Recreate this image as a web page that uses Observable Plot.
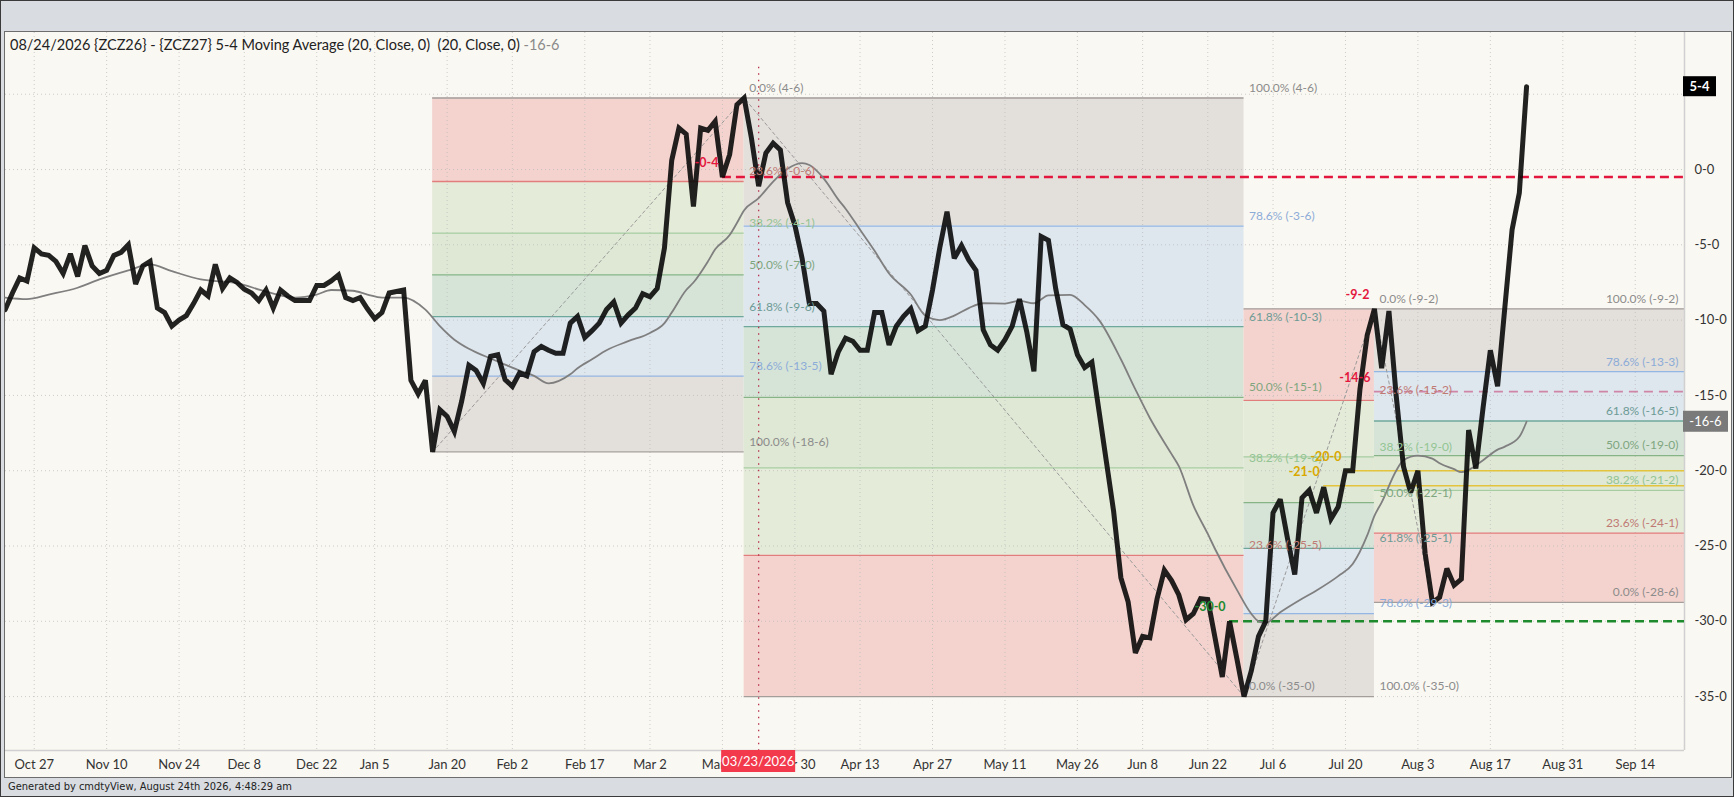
<!DOCTYPE html>
<html>
<head>
<meta charset="utf-8">
<script src="https://cdn.jsdelivr.net/npm/d3@7"></script>
<script src="https://cdn.jsdelivr.net/npm/@observablehq/plot@0.6"></script>
<style>
  html, body { margin: 0; padding: 0; background: #d9dde1; }
  #frame { position: relative; width: 1734px; height: 797px; background: #d9dde1; overflow: hidden; font-family: Lato, "Noto Sans", sans-serif; box-sizing: border-box; border: 1px solid #3a3a3a; }
  #panel { position: absolute; left: 3px; top: 30px; width: 1728px; height: 747px; background: #faf8f2; border: 1px solid #6d6d6d; box-sizing: border-box; }
  #chart { position: absolute; left: 4px; top: 31px; }
  #title { position: absolute; left: 9px; top: 35px; font-size: 14.5px; color: #222; white-space: pre; line-height: 18px; }
  #title .ma { color: #8a8a8a; }
  #footer { position: absolute; left: 7px; top: 779px; font-family: "Liberation Sans Narrow", "DejaVu Sans Condensed", "Liberation Sans", sans-serif; font-size: 11px; color: #222; }
</style>
</head>
<body>
<div id="frame">
  <div id="panel"></div>
  <div id="chart"></div>
  <div id="title">08/24/2026 {ZCZ26} - {ZCZ27} 5-4 Moving Average (20, Close, 0)  (20, Close, 0) <span class="ma">-16-6</span></div>
  <div id="footer">Generated by cmdtyView, August 24th 2026, 4:48:29 am</div>
</div>
<script>
// ---- data (trading-day index: 0 = Oct 27) ----
const firstDay = -4;
const closes = [
  -9.3, -8.2, -7.2, -7.4, -5.2, -5.6, -5.7, -6.1, -6.9, -5.6,
  -7.1, -5.05, -6.4, -6.9, -6.7, -5.7, -5.5, -5.0, -7.6, -6.4,
  -6.1, -9.2, -9.5, -10.4, -10.0, -9.7, -8.9, -8.0, -8.4, -6.3,
  -7.9, -7.2, -7.5, -7.95, -8.2, -8.7, -8.0, -9.2, -8.0, -8.4,
  -8.7, -8.7, -8.7, -7.7, -7.7, -7.4, -7.0, -8.5, -8.7, -8.5,
  -9.25, -9.9, -9.5, -8.2, -8.1, -8.0, -14.0, -14.9, -14.0, -18.75,
  -15.95, -16.4, -17.4, -15.4, -13.0, -13.35, -14.2, -12.4, -12.3, -13.95,
  -14.4, -13.5, -13.7, -12.1, -11.75, -12.0, -12.2, -12.2, -10.2, -9.75,
  -11.15, -10.7, -10.2, -9.3, -8.8, -10.2, -9.65, -9.2, -8.25, -8.45,
  -7.9, -5.2, 0.6, 2.75, 2.35, -2.45, 2.75, 2.6, 3.2, -0.5,
  1.0, 4.3, 4.75, 2.1, -1.1, 1.1, 1.75, 1.3, -2.2, -3.7,
  -5.9, -8.9, -8.9, -9.4, -13.6, -12.1, -11.2, -11.4, -12.0, -12.0,
  -9.5, -9.5, -11.65, -10.4, -9.75, -9.25, -10.7, -10.4, -8.0, -5.2,
  -2.8, -5.9, -5.05, -6.0, -6.7, -10.65, -11.65, -12.0, -11.3, -10.4,
  -8.6, -10.75, -13.4, -4.45, -4.7, -7.9, -10.3, -10.6, -12.3, -13.15,
  -12.8, -16.1, -19.4, -22.7, -27.1, -28.7, -32.1, -31.0, -31.1, -28.5,
  -26.6, -27.3, -28.25, -29.9, -29.5, -28.5, -28.55, -31.1, -33.7, -30.0,
  -32.45, -35.0, -33.3, -31.0, -30.0, -22.8, -21.9, -24.5, -26.9, -21.8,
  -21.3, -22.8, -21.1, -23.2, -22.4, -20.0, -20.0, -14.6, -11.0, -9.25,
  -13.2, -9.4, -15.0, -19.7, -21.45, -20.0, -25.5, -28.75, -28.4, -26.5,
  -27.6, -27.2, -17.3, -19.85, -15.8, -12.0, -14.4, -9.16, -4.0, -1.55,
  5.5
];
const maDays = [-4, -1, 2, 6, 9, 13, 16, 19, 23, 28, 32, 36, 39, 41, 44, 46, 48, 51, 54, 56,
  58, 60, 63, 65, 67, 69, 71, 74, 75, 77, 79, 82, 85, 87, 88, 90, 91, 93, 94, 96,
  97, 98, 100, 102, 104, 106, 107, 109, 111, 112, 114, 116, 118, 121, 123, 125, 127, 129, 131, 134,
  136, 138, 140, 143, 145, 147, 150, 152, 154, 157, 158, 160, 162, 163, 166, 168, 169, 170, 172, 175,
  177, 180, 182, 184, 185, 186, 188, 189, 191, 193, 194, 196, 197, 198, 200, 202, 203, 205, 206];
const maValues = [-8.5, -8.6, -8.3, -7.85, -7.3, -6.7, -6.3, -6.75, -7.3, -7.55, -8.1, -8.5, -8.3, -8.0, -8.05, -8.3, -8.5, -8.5, -9.3, -10.4,
  -11.3, -11.9, -12.55, -12.95, -13.35, -13.7, -14.2, -13.6, -13.2, -12.6, -12.0, -11.4, -10.85, -10.2, -9.5, -8.0, -7.5, -6.1, -5.3, -4.35,
  -3.55, -2.7, -1.9, -0.8, 0.05, 0.42, 0.3, -0.6, -2.0, -2.6, -4.0, -5.4, -6.9, -8.3, -9.7, -10.0, -9.7, -9.2, -8.88, -8.9,
  -8.72, -8.88, -8.35, -8.32, -9.0, -10.0, -12.6, -14.6, -16.5, -18.9, -19.7, -22.3, -24.2, -25.2, -27.9, -29.5, -30.0, -30.1, -29.4, -28.5,
  -27.95, -27.0, -26.2, -24.3, -23.0, -22.1, -20.0, -19.3, -19.0, -19.2, -19.5, -19.9, -20.1, -19.95, -19.3, -18.6, -18.4, -17.75, -16.75];

const xTickDays = [0, 10, 20, 29, 39, 47, 57, 66, 76, 85, 95, 105, 114, 124, 134, 144, 153, 162, 171, 181, 191, 201, 211, 221];
const xTickLabels = ["Oct 27", "Nov 10", "Nov 24", "Dec 8", "Dec 22", "Jan 5", "Jan 20", "Feb 2", "Feb 17", "Mar 2", "Mar 16", "Mar 30",
  "Apr 13", "Apr 27", "May 11", "May 26", "Jun 8", "Jun 22", "Jul 6", "Jul 20", "Aug 3", "Aug 17", "Aug 31", "Sep 14"];
const yGridTicks = [5, 0, -5, -10, -15, -20, -25, -30, -35];
const yLabelTicks = [0, -5, -10, -15, -20, -25, -30, -35];

const fibRatios = [0, 0.236, 0.382, 0.5, 0.618, 0.786, 1];
const fibStartDays = [55, 98, 167, 185];
const fibEndDays = [98, 167, 185, 193];
const fibStartValues = [-18.75, 4.75, -35, -9.25];
const fibEndValues = [4.75, -35, -9.25, -28.75];
const fibExtendRight = [false, false, false, true];
const fibLevelLabels = [
  ["4-6", "-0-6", "-4-1", "-7-0", "-9-6", "-13-5", "-18-6"],
  ["-35-0", "-25-5", "-19-6", "-15-1", "-10-3", "-3-6", "4-6"],
  ["-9-2", "-15-2", "-19-0", "-22-1", "-25-1", "-29-3", "-35-0"],
  ["-28-6", "-24-1", "-21-2", "-19-0", "-16-5", "-13-3", "-9-2"]
];

const markerValues = [-0.5, -14.75, -20, -21, -30];
const markerDays = [95, 185, 181, 178, 165];
const markerLabels = ["-0-4", "-14-6", "-20-0", "-21-0", "-30-0"];
const highLabelDay = 185, highLabelValue = -9.25, highLabelText = "-9-2";
const crosshairDay = 100, crosshairLabel = "03/23/2026";
const lastClose = 5.5, lastMA = -16.75;

// ---- styles ----
const bandColors = ["#f4d3ce", "#e5ebd9", "#dfe8d4", "#d6e4d8", "#dee6ee", "#e3dfdb"];
const lineColors = ["#a39e9b", "#e27d7d", "#a5cda1", "#86b486", "#6ea79b", "#94b6e4", "#a39e9b"];
const labelColors = ["#8c8c8c", "#c07a74", "#93c493", "#7fa67f", "#6c9b95", "#8cacd8", "#8c8c8c"];
const markerStroke = ["#e3173e", "#cf86a6", "#e3c43c", "#e3c43c", "#1e8a2e"];
const markerText = ["#e3173e", "#e3173e", "#d9a800", "#d9a800", "#1e8a2e"];
const markerDash = ["9,5", "9,6", null, null, "9,5"];
const markerWidth = [2.6, 1.8, 1.6, 1.6, 2.6];

const fmt = v => {
  const a = Math.abs(v);
  const w = Math.floor(a + 1e-9);
  const e = Math.floor((a - w) * 8 + 1e-6);
  return (v < 0 ? "-" : "") + w + "-" + e;
};

// ---- derived tables ----
const W = 1726, H = 746;
const xDomain = [-3.96, 227.8];
const yDomain = [-38.58, 9.10];

const closeData = closes.map((v, k) => ({d: firstDay + k, v}));
const maData = maDays.map((d, k) => ({d, v: maValues[k]}));
const fibBands = [], fibLines = [], fibTexts = [];
fibStartDays.forEach((s, b) => {
  const x1 = s, x2 = fibExtendRight[b] ? xDomain[1] : fibEndDays[b];
  const lv = fibRatios.map(r => fibEndValues[b] + r * (fibStartValues[b] - fibEndValues[b]));
  for (let k = 0; k < 6; k++) fibBands.push({x1, x2, y1: lv[k], y2: lv[k + 1], fill: bandColors[k]});
  fibRatios.forEach((r, k) => {
    fibLines.push({x1, x2, y: lv[k], stroke: lineColors[k]});
    fibTexts.push({x: x2, y: lv[k], fill: labelColors[k], right: fibExtendRight[b],
      text: (r * 100).toFixed(1) + "% (" + fibLevelLabels[b][k] + ")"});
  });
});
const trendPts = fibStartDays.map((d, b) => ({d, v: fibStartValues[b]}));
trendPts.push({d: fibEndDays[fibEndDays.length - 1], v: fibEndValues[fibEndValues.length - 1]});
const markers = markerValues.map((v, k) => ({v, d: markerDays[k], label: markerLabels[k], stroke: markerStroke[k], tfill: markerText[k], dash: markerDash[k], w: markerWidth[k]}));
const tickLabelMap = new Map(xTickDays.map((d, k) => [d, xTickLabels[k]]));

const markerMarks = markers.map(m => Plot.ruleY([m], {x1: "d", x2: () => xDomain[1], y: "v", stroke: m.stroke, strokeWidth: m.w, strokeDasharray: m.dash || undefined}));

const plot = Plot.plot({
  width: W, height: H,
  marginLeft: 0, marginRight: 47, marginTop: 0, marginBottom: 28,
  x: {domain: xDomain, axis: null},
  y: {domain: yDomain, axis: null},
  color: {type: "identity"},
  style: {background: "transparent", fontFamily: "Lato, 'Noto Sans', sans-serif", overflow: "visible"},
  marks: [
    Plot.rect(fibBands, {x1: "x1", x2: "x2", y1: "y1", y2: "y2", fill: "fill"}),
    Plot.gridY(yGridTicks, {stroke: "#b9b9b9", strokeOpacity: 0.7, strokeDasharray: "1,3"}),
    Plot.gridX(xTickDays, {stroke: "#b9b9b9", strokeOpacity: 0.7, strokeDasharray: "1,3"}),
    Plot.ruleY(fibLines, {x1: "x1", x2: "x2", y: "y", stroke: "stroke", strokeWidth: 1.3}),
    Plot.line(trendPts, {x: "d", y: "v", stroke: "#9a9a9a", strokeWidth: 1, strokeDasharray: "3,3"}),
    Plot.ruleY([yDomain[0]], {stroke: "#d0d0d0", strokeWidth: 1.5}),
    Plot.ruleX([xDomain[1]], {stroke: "#d0d0d0", strokeWidth: 1.5}),
    Plot.ruleX([crosshairDay], {y1: 6.8, y2: yDomain[0], stroke: "#b8344f", strokeWidth: 1.3, strokeDasharray: "1.5,5"}),
    ...markerMarks,
    Plot.line(maData, {x: "d", y: "v", stroke: "#7f7f7f", strokeWidth: 1.8, curve: "monotone-x"}),
    Plot.line(closeData, {x: "d", y: "v", stroke: "#0a0a0a", strokeOpacity: 0.9, strokeWidth: 5, strokeLinejoin: "miter", strokeMiterlimit: 3, clip: true}),
    Plot.text(fibTexts.filter(d => !d.right), {x: "x", y: "y", text: "text", fill: "fill", textAnchor: "start", dx: 5, dy: -10, fontSize: 12}),
    Plot.text(fibTexts.filter(d => d.right), {x: "x", y: "y", text: "text", fill: "fill", textAnchor: "end", dx: -6, dy: -10, fontSize: 12}),
    Plot.text(markers, {x: "d", y: "v", text: "label", fill: "tfill", textAnchor: "end", dx: -4, dy: -14, fontSize: 12.5, fontWeight: "bold"}),
    Plot.text([{d: highLabelDay, v: highLabelValue}], {x: "d", y: "v", text: () => highLabelText, fill: "#e3173e", textAnchor: "end", dx: -5, dy: -14, fontSize: 12.5, fontWeight: "bold"}),
    Plot.axisY({anchor: "right", ticks: yLabelTicks, tickFormat: fmt, tickSize: 0, tickPadding: 10, fontSize: 13, fill: "#333", textAnchor: "start"}),
    Plot.axisX(xTickDays, {tickFormat: d => tickLabelMap.get(d), tickSize: 0, tickPadding: 9, fontSize: 13, fill: "#333"})
  ]
});

// value boxes drawn with the plot's own scales
const sx = plot.scale("x"), sy = plot.scale("y");
const svg = d3.select(plot.tagName === "svg" ? plot : plot.querySelector("svg"));
const g = svg.append("g").attr("font-family", "Lato, 'Noto Sans', sans-serif").attr("font-size", 13);
// crosshair date label
const cx = sx.apply(crosshairDay);
g.append("rect").attr("x", cx - 37).attr("y", H - 28).attr("width", 74).attr("height", 22).attr("fill", "#f23a4c");
g.append("text").attr("x", cx).attr("y", H - 17).attr("dy", "0.35em").attr("text-anchor", "middle").attr("fill", "#fff").text(crosshairLabel);
// last close box
const rx = W - 47 - 1;
const yc = sy.apply(lastClose);
g.append("rect").attr("x", rx).attr("y", yc - 10).attr("width", 33).attr("height", 20).attr("fill", "#000");
g.append("text").attr("x", rx + 16.5).attr("y", yc).attr("dy", "0.35em").attr("text-anchor", "middle").attr("fill", "#fff").attr("font-weight", "bold").text(fmt(lastClose));
// last MA box
const ym = sy.apply(lastMA);
g.append("rect").attr("x", rx).attr("y", ym - 10.5).attr("width", 45).attr("height", 21).attr("fill", "#7a7a7a");
g.append("text").attr("x", rx + 22.5).attr("y", ym).attr("dy", "0.35em").attr("text-anchor", "middle").attr("fill", "#fff").text(fmt(lastMA));

document.getElementById("chart").appendChild(plot);
</script>
</body>
</html>
